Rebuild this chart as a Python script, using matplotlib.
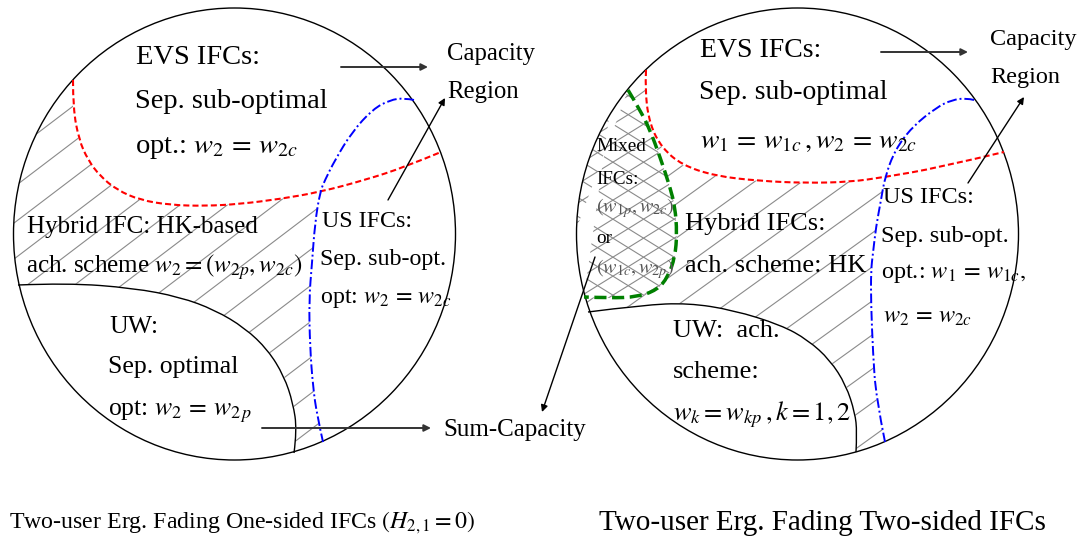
import numpy as np
import matplotlib.pyplot as plt
from matplotlib.patches import Ellipse, PathPatch, Polygon
from matplotlib.path import Path
from matplotlib.collections import LineCollection

plt.rcParams['font.family'] = ['Liberation Serif', 'DejaVu Serif']
plt.rcParams['mathtext.fontset'] = 'stix'

W, H = 1082, 540

# ellipses: centre x, centre y, radius x, radius y (pixels, y pointing down)
circle_left = (234.5, 234, 221, 226)
circle_right = (797.5, 234, 221, 226)

# one-sided IFC boundaries
red_left = [(73, 80), (73, 108), (79, 140), (88, 160), (100, 176), (117, 190),
            (140, 200), (170, 205), (205, 206), (240, 204), (280, 199),
            (320, 192), (365, 180), (405, 167), (441, 152)]
blue_left = [(414, 100), (404, 98), (390, 100), (373, 109), (352, 132),
             (335, 160), (325, 180), (320, 192), (315, 223), (312, 263),
             (309, 300), (310, 347), (313, 387), (317, 415), (323, 442)]
uw_left = [(18, 285), (67, 283), (133, 288), (180, 297), (215, 310),
           (245, 328), (268, 350), (284, 376), (293, 403), (297, 430),
           (294, 453)]

# two-sided IFC boundaries
red_right = [(646, 70), (645, 93), (650, 125), (662, 148), (682, 165),
             (715, 176), (760, 181), (805, 183), (850, 182), (885, 177),
             (937, 168), (1004, 152)]
blue_right = [(974, 100), (966, 98), (952, 100), (937, 107), (912, 127),
              (895, 150), (885, 177), (881, 200), (876, 227), (873, 253),
              (871, 270), (871, 303), (873, 353), (876, 397), (885, 442)]
green_right = [(628, 90), (640, 110), (650, 130), (660, 157), (670, 187),
               (675, 207), (677, 233), (675, 257), (668, 277), (657, 290),
               (637, 297), (610, 298), (584, 297)]
uw_right = [(588, 312), (643, 305), (688, 303), (733, 310), (781, 325),
            (808, 340), (830, 360), (846, 385), (855, 413), (857, 432),
            (856, 452)]

# (x, baseline y, text, size, colour)
labels = [
    (136, 64, 'EVS IFCs:', 20.5, 'k'),
    (135, 108, 'Sep. sub-optimal', 20.5, 'k'),
    (135, 153, r'opt.: $w_2\,=\,w_{2c}$', 20.5, 'k'),
    (27, 233, 'Hybrid IFC: HK-based', 18, 'k'),
    (26, 273, r'ach. scheme $w_2=(w_{2p},w_{2c})$', 18, 'k'),
    (322, 227, 'US IFCs:', 17.3, 'k'),
    (320, 265, 'Sep. sub-opt.', 17.3, 'k'),
    (320, 303, r'opt: $w_2\,=\,w_{2c}$', 17.3, 'k'),
    (109, 333, 'UW:', 18.5, 'k'),
    (108, 373, 'Sep. optimal', 18.5, 'k'),
    (108, 415, r'opt: $w_2\,=\,w_{2\,p}$', 18.5, 'k'),
    (447, 60, 'Capacity', 17.8, 'k'),
    (447, 98, 'Region', 17.8, 'k'),
    (443, 436, 'Sum-Capacity', 18, 'k'),
    (9, 528, r'Two-user Erg. Fading One-sided IFCs $(H_{2,1}=0)$', 17.2, 'k'),
    (700, 57, 'EVS IFCs:', 20, 'k'),
    (699, 99, 'Sep. sub-optimal', 20, 'k'),
    (700, 148, r'$w_1\,=\,w_{1c}\,,w_2\,=\,w_{2c}$', 20, 'k'),
    (990, 45, 'Capacity', 17.5, 'k'),
    (990, 83, 'Region', 17.5, 'k'),
    (596, 151, 'Mixed', 13.8, 'k'),
    (596, 184, 'IFCs:', 13.8, 'k'),
    (596, 212, r'$(w_{1p},w_{2c})$', 14.5, '#555555'),
    (596, 243, 'or', 13.8, 'k'),
    (596, 273, r'$(w_{1c},w_{2p})$', 14.5, '#555555'),
    (685, 230, 'Hybrid IFCs:', 19, 'k'),
    (685, 272, 'ach. scheme: HK', 19, 'k'),
    (883, 203, 'US IFCs:', 17.5, 'k'),
    (881, 242, 'Sep. sub-opt.', 17.5, 'k'),
    (881, 278, r'opt.: $w_1\,=\,w_{1c},$', 17.5, 'k'),
    (883, 323, r'$w_2\,=\,w_{2c}$', 17.5, 'k'),
    (673, 337, 'UW:  ach.', 19, 'k'),
    (673, 378, 'scheme:', 19, 'k'),
    (673, 420, r'$w_k=w_{kp}\,,k=1,2$', 19, 'k'),
    (599, 530, 'Two-user Erg. Fading Two-sided IFCs', 21, 'k'),
]

# (start, end, colour, width)
arrows = [
    ((341, 67), (428, 67), '#333333', 1.4),
    ((388, 200), (445, 98), 'k', 1.0),
    ((262, 428), (431, 428), '#333333', 1.4),
    ((881, 52), (968, 52), '#333333', 1.4),
    ((968, 183), (1024, 97), 'k', 1.0),
    ((595, 257), (542, 412), 'k', 1.0),
]


def hatch(ax, poly, slope, step, color='#8a8a8a'):
    patch = Polygon(poly, closed=True, fill=False, edgecolor='none')
    ax.add_patch(patch)
    xs = np.array([-50.0, W + 50.0])
    segs = []
    for b in np.arange(-abs(slope) * W - 60, H + abs(slope) * W + 60, step):
        segs.append(list(zip(xs, b - slope * xs)))
    lc = LineCollection(segs, colors=color, linewidths=0.8, zorder=1)
    ax.add_collection(lc)
    lc.set_clip_path(patch)


def outside_mask(ax, ellipses):
    # white cover over everything except the ellipse interiors
    verts = [(-20, -20), (W + 20, -20), (W + 20, H + 20), (-20, H + 20), (-20, -20)]
    codes = [Path.MOVETO] + [Path.LINETO] * 3 + [Path.CLOSEPOLY]
    t = np.linspace(2 * np.pi, 0, 240)
    for cx, cy, rx, ry in ellipses:
        pts = np.column_stack([cx + rx * np.cos(t), cy + ry * np.sin(t)]).tolist()
        verts += pts + [pts[0]]
        codes += [Path.MOVETO] + [Path.LINETO] * (len(pts) - 1) + [Path.CLOSEPOLY]
    ax.add_patch(PathPatch(Path(verts, codes), facecolor='white',
                           edgecolor='none', zorder=2))


def curve(ax, pts, **kw):
    # quadratic bezier through the midpoints, using the points as controls
    pts = np.asarray(pts, float)
    verts, codes = [pts[0]], [Path.MOVETO]
    for i in range(1, len(pts) - 1):
        end = pts[-1] if i == len(pts) - 2 else (pts[i] + pts[i + 1]) / 2
        verts += [pts[i], end]
        codes += [Path.CURVE3, Path.CURVE3]
    ax.add_patch(PathPatch(Path(verts, codes), fill=False, zorder=3, **kw))


fig = plt.figure(figsize=(W / 100, H / 100), dpi=100)
ax = fig.add_axes([0, 0, 1, 1])
ax.set_xlim(0, W)
ax.set_ylim(H, 0)
ax.axis('off')

# hatched regions (extended past the ellipses, then masked)
i_red = red_left.index((320, 192))
i_blue = blue_left.index((320, 192))
poly_left = (red_left[:i_red + 1] + blue_left[i_blue + 1:]
             + [(326, 475), (294, 480)] + uw_left[::-1]
             + [(-10, 285), (-10, 40), (60, 40)])
hatch(ax, poly_left, 0.76, 36)

j_red = red_right.index((885, 177))
j_blue = blue_right.index((885, 177))
poly_right = (green_right + [(560, 300), (560, 315)] + uw_right
              + [(858, 485), (890, 480)] + blue_right[:j_blue:-1]
              + red_right[j_red::-1] + [(630, 55), (615, 75)])
hatch(ax, poly_right, 0.72, 34)

poly_mixed = green_right[::-1] + [(550, 300), (550, 80), (615, 75)]
hatch(ax, poly_mixed, 0.62, 19)
hatch(ax, poly_mixed, -0.62, 19)

outside_mask(ax, [circle_left, circle_right])

for cx, cy, rx, ry in (circle_left, circle_right):
    ax.add_patch(Ellipse((cx, cy), 2 * rx, 2 * ry, fill=False,
                         edgecolor='k', lw=1.0, zorder=3))

curve(ax, uw_left, edgecolor='k', lw=1.0)
curve(ax, uw_right, edgecolor='k', lw=1.0)
curve(ax, red_left, edgecolor='#ff0000', lw=1.5, linestyle=(0, (2.9, 1.5)))
curve(ax, red_right, edgecolor='#ff0000', lw=1.5, linestyle=(0, (2.9, 1.5)))
curve(ax, blue_left, edgecolor='#0000ff', lw=1.4, linestyle=(0, (5, 1.5, 1, 1.5)))
curve(ax, blue_right, edgecolor='#0000ff', lw=1.4, linestyle=(0, (5, 1.5, 1, 1.5)))
curve(ax, green_right, edgecolor='#008000', lw=2.5, linestyle=(0, (3.5, 1.6)))

for start, end, col, lw in arrows:
    ax.annotate('', xy=end, xytext=start, zorder=5,
                arrowprops=dict(arrowstyle='-|>', color=col, lw=lw,
                                mutation_scale=10, shrinkA=0, shrinkB=0))

for x, y, s, size, col in labels:
    ax.text(x, y, s, fontsize=size, color=col, ha='left', va='baseline', zorder=4)

fig.savefig('out.png', dpi=100)
